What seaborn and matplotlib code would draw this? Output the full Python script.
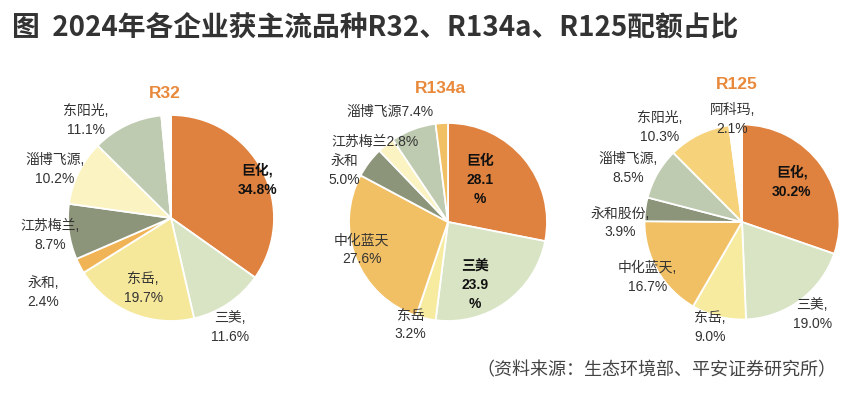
import matplotlib
matplotlib.use("Agg")
import matplotlib.pyplot as plt
import seaborn as sns

sns.set_theme(style="white")
plt.rcParams["font.family"] = ["Liberation Sans", "Noto Sans CJK SC", "DejaVu Sans"]

# --- Data ---
r32_names = ["巨化", "三美", "东岳", "永和", "江苏梅兰", "淄博飞源", "东阳光", "其他"]
r32_share = [34.8, 11.6, 19.7, 2.4, 8.7, 10.2, 11.1, 1.5]

r134a_names = ["巨化", "三美", "东岳", "中化蓝天", "永和", "江苏梅兰", "淄博飞源", "其他"]
r134a_share = [28.1, 23.9, 3.2, 27.6, 5.0, 2.8, 7.4, 2.0]

r125_names = ["巨化", "三美", "东岳", "中化蓝天", "永和股份", "淄博飞源", "东阳光", "阿科玛"]
r125_share = [30.2, 19.0, 9.0, 16.7, 3.9, 8.5, 10.3, 2.1]

# label text per wedge ("" = no label)
r32_labels = ["巨化,\n34.8%", "三美,\n11.6%", "东岳,\n19.7%", "永和,\n2.4%",
              "江苏梅兰,\n8.7%", "淄博飞源,\n10.2%", "东阳光,\n11.1%", ""]
r134a_labels = ["巨化\n28.1\n%", "三美\n23.9\n%", "东岳\n3.2%", "中化蓝天\n27.6%",
                "永和\n5.0%", "江苏梅兰2.8%", "淄博飞源7.4%", ""]
r125_labels = ["巨化,\n30.2%", "三美,\n19.0%", "东岳,\n9.0%", "中化蓝天,\n16.7%",
               "永和股份,\n3.9%", "淄博飞源,\n8.5%", "东阳光,\n10.3%", "阿科玛,\n2.1%"]

# --- Style / layout ---
ORANGE = "#E0823F"
SAGE_LIGHT = "#D9E4C5"
YELLOW = "#F7EBA0"
GOLD = "#F2C064"
DARK = "#8C9479"
CREAM = "#FBF3C1"
SAGE = "#BFCBB0"

r32_colors = [ORANGE, SAGE_LIGHT, "#F6E89A", "#F0B456", DARK, CREAM, SAGE, "white"]
r134a_colors = [ORANGE, SAGE_LIGHT, YELLOW, GOLD, DARK, CREAM, SAGE, GOLD]
r125_colors = [ORANGE, SAGE_LIGHT, YELLOW, GOLD, DARK, SAGE, "#F6D27A", "white"]

# label positions relative to pie centre, in pie-radius units
r32_pos = [(0.84, 0.37), (0.57, -1.06), (-0.27, -0.68), (-1.24, -0.72),
           (-1.17, -0.17), (-1.13, 0.47), (-0.83, 0.95), (0, 0)]
r134a_pos = [(0.32, 0.42), (0.27, -0.64), (-0.38, -1.04), (-0.87, -0.28),
             (-1.05, 0.52), (-0.74, 0.81), (-0.59, 1.11), (0, 0)]
r125_pos = [(0.51, 0.41), (0.72, -0.95), (-0.33, -1.08), (-0.97, -0.57),
            (-1.25, -0.01), (-1.17, 0.55), (-0.84, 0.97), (-0.10, 1.05)]

r32_bold = [0]
r134a_bold = [0, 1]
r125_bold = [0]

W, H = 858, 397
LIM = 1.6

charts = [
    ("R32", r32_share, r32_labels, r32_colors, r32_pos, r32_bold, (171, 218), 103, (-0.06, 1.21)),
    ("R134a", r134a_share, r134a_labels, r134a_colors, r134a_pos, r134a_bold, (448, 222), 99, (-0.08, 1.35)),
    ("R125", r125_share, r125_labels, r125_colors, r125_pos, r125_bold, (742, 222), 97.5, (-0.05, 1.41)),
]

fig = plt.figure(figsize=(W / 100, H / 100), dpi=100)
fig.patch.set_facecolor("white")

for name, share, labels, colors, pos, bold, (cx, cy), r, tpos in charts:
    size = 2 * LIM * r
    ax = fig.add_axes([(cx - size / 2) / W, (H - cy - size / 2) / H, size / W, size / H])
    ax.set_facecolor("none")
    ax.pie(share, colors=colors, startangle=90, counterclock=False,
           wedgeprops={"edgecolor": "white", "linewidth": 1.3})
    ax.set_xlim(-LIM, LIM)
    ax.set_ylim(-LIM, LIM)
    ax.set_aspect("equal")
    ax.axis("off")
    for i, lab in enumerate(labels):
        if not lab:
            continue
        ax.text(pos[i][0], pos[i][1], lab, ha="center", va="center", fontsize=10,
                linespacing=1.45, color="#111111" if i in bold else "#333333",
                fontweight="bold" if i in bold else "normal")
    ax.text(tpos[0], tpos[1], name, ha="center", va="center", fontsize=12.5,
            fontweight="bold", color="#E8893C")

fig.text(12 / W, 1 - 27 / H, "图  2024年各企业获主流品种R32、R134a、R125配额占比",
         ha="left", va="center", fontsize=20, fontweight="bold", color="#333333",
         family=["Noto Sans CJK SC", "DejaVu Sans"])
fig.text(836 / W, 1 - 370 / H, "（资料来源：生态环境部、平安证券研究所）",
         ha="right", va="center", fontsize=13, color="#444444",
         family=["Noto Sans CJK SC", "DejaVu Sans"])

fig.savefig("out.png", dpi=100, facecolor="white")
